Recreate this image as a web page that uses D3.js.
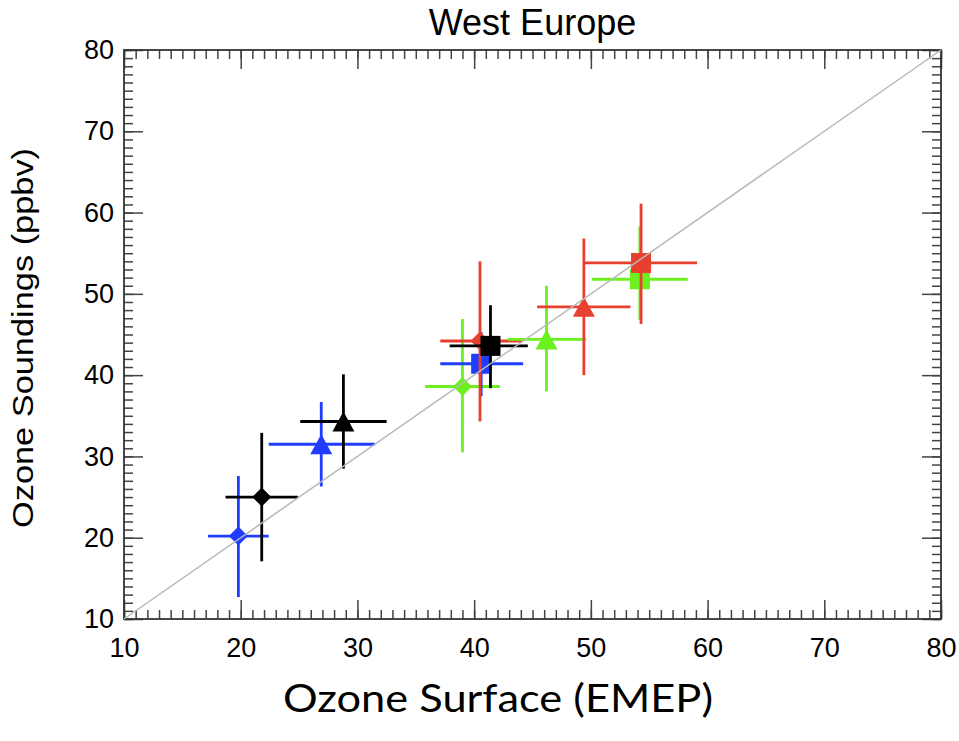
<!DOCTYPE html>
<html>
<head>
<meta charset="utf-8">
<script src="https://cdn.jsdelivr.net/npm/d3@7"></script>
<style>
  html, body { margin: 0; padding: 0; background: #fff; }
  svg { display: block; }
  text { font-family: "Liberation Sans", Arial, Helvetica, sans-serif; fill: #000; }
</style>
</head>
<body>
<svg id="chart" width="959" height="741"></svg>
<script>
// Mean ozone (ppbv): surface EMEP stations vs. ozonesondes, West Europe
const pointGroup = ["blue", "black", "blue", "black", "green", "blue", "red", "black", "green", "red", "green", "red"];
const pointShape = ["diamond", "diamond", "triangle", "triangle", "diamond", "square", "diamond", "square", "triangle", "triangle", "square", "square"];
const surfaceMean = [19.8, 21.8, 26.9, 28.8, 39.0, 40.6, 40.5, 41.4, 46.2, 49.4, 54.2, 54.3];
const surfaceLow  = [17.2, 18.7, 22.4, 25.1, 35.8, 37.1, 37.1, 37.9, 42.9, 45.4, 50.1, 49.4];
const surfaceHigh = [22.4, 24.9, 31.5, 32.5, 42.2, 44.2, 44.1, 44.6, 49.6, 53.4, 58.3, 59.1];
const soundingMean = [20.2, 25.0, 31.5, 34.3, 38.6, 41.4, 44.2, 43.6, 44.4, 48.4, 51.8, 53.8];
const soundingLow  = [12.7, 17.1, 26.3, 28.5, 30.5, 37.4, 34.3, 38.4, 38.0, 40.0, 46.8, 46.3];
const soundingHigh = [27.6, 32.9, 36.7, 40.1, 46.9, 45.3, 54.0, 48.6, 51.0, 56.8, 58.3, 61.1];
const axisTicks = [10, 20, 30, 40, 50, 60, 70, 80];
const minorTicks = d3.range(10, 81, 1);

const groupColor = d3.scaleOrdinal()
  .domain(["blue", "black", "green", "red"])
  .range(["#1f3cff", "#000000", "#6cf01e", "#e8402e"]);

const margin = { left: 124, right: 18, top: 50, bottom: 122 };
const W = 959, H = 741;
const svg = d3.select("#chart");

const x = d3.scaleLinear().domain([10, 80]).range([margin.left, W - margin.right]);
const y = d3.scaleLinear().domain([10, 80]).range([H - margin.bottom, margin.top]);

// Title
svg.append("text")
  .attr("x", (x.range()[0] + x.range()[1]) / 2)
  .attr("y", 35)
  .attr("text-anchor", "middle")
  .style("font-size", "36px")
  .text("West Europe");

// Axes: IDL-style inward ticks on all four sides
const tickColor = "#444";
function styleAxis(g) {
  g.select(".domain").remove();
  g.selectAll(".tick line").attr("stroke", tickColor).attr("stroke-width", 1.5);
  g.selectAll(".tick text").style("font-size", "27px").attr("fill", "#000");
}
const plotB = y(10), plotT = y(80), plotL = x(10), plotR = x(80);

// minor ticks
svg.append("g").attr("transform", `translate(0,${plotB})`)
  .call(d3.axisBottom(x).tickValues(minorTicks).tickSize(-9).tickFormat(""))
  .call(styleAxis);
svg.append("g").attr("transform", `translate(0,${plotT})`)
  .call(d3.axisTop(x).tickValues(minorTicks).tickSize(-9).tickFormat(""))
  .call(styleAxis);
svg.append("g").attr("transform", `translate(${plotL},0)`)
  .call(d3.axisLeft(y).tickValues(minorTicks).tickSize(-9).tickFormat(""))
  .call(styleAxis);
svg.append("g").attr("transform", `translate(${plotR},0)`)
  .call(d3.axisRight(y).tickValues(minorTicks).tickSize(-9).tickFormat(""))
  .call(styleAxis);

// major ticks and labels
svg.append("g").attr("transform", `translate(0,${plotB})`)
  .call(d3.axisBottom(x).tickValues(axisTicks).tickSize(-19).tickPadding(19).tickFormat(d3.format("d")))
  .call(styleAxis);
svg.append("g").attr("transform", `translate(0,${plotT})`)
  .call(d3.axisTop(x).tickValues(axisTicks).tickSize(-19).tickFormat(""))
  .call(styleAxis);
svg.append("g").attr("transform", `translate(${plotL},0)`)
  .call(d3.axisLeft(y).tickValues(axisTicks).tickSize(-19).tickPadding(10).tickFormat(d3.format("d")))
  .call(styleAxis);
svg.append("g").attr("transform", `translate(${plotR},0)`)
  .call(d3.axisRight(y).tickValues(axisTicks).tickSize(-19).tickFormat(""))
  .call(styleAxis);

// frame
svg.append("rect")
  .attr("x", plotL).attr("y", plotT)
  .attr("width", plotR - plotL).attr("height", plotB - plotT)
  .attr("fill", "none").attr("stroke", "#333").attr("stroke-width", 1.8);

// Axis titles
svg.append("text")
  .attr("transform", `translate(33,${(148 + 528) / 2}) rotate(-90)`)
  .attr("text-anchor", "middle")
  .attr("textLength", 380)
  .attr("lengthAdjust", "spacingAndGlyphs")
  .style("font-size", "30px")
  .text("Ozone Soundings (ppbv)");

svg.append("text")
  .attr("x", 498)
  .attr("y", 712)
  .attr("text-anchor", "middle")
  .attr("textLength", 430)
  .attr("lengthAdjust", "spacingAndGlyphs")
  .style("font-family", "Lato, 'Open Sans', sans-serif")
  .style("font-size", "39px")
  .text("Ozone Surface (EMEP)");

// Marker shapes
function markerPath(shape) {
  if (shape === "diamond") {
    const r = 9.5;
    return `M0,${-r}L${r},0L0,${r}L${-r},0Z`;
  }
  if (shape === "triangle") {
    return "M0,-10L11,10L-11,10Z";
  }
  const s = 10;
  return `M${-s},${-s}H${s}V${s}H${-s}Z`;
}

const points = surfaceMean.map((v, i) => ({
  group: pointGroup[i], shape: pointShape[i],
  x: v, xlo: surfaceLow[i], xhi: surfaceHigh[i],
  y: soundingMean[i], ylo: soundingLow[i], yhi: soundingHigh[i]
}));

const pts = svg.append("g").selectAll("g.pt").data(points).join("g").attr("class", "pt");
pts.append("line")
  .attr("x1", d => x(d.xlo)).attr("x2", d => x(d.xhi))
  .attr("y1", d => y(d.y)).attr("y2", d => y(d.y))
  .attr("stroke", d => groupColor(d.group)).attr("stroke-width", 2.8);
pts.append("line")
  .attr("x1", d => x(d.x)).attr("x2", d => x(d.x))
  .attr("y1", d => y(d.ylo)).attr("y2", d => y(d.yhi))
  .attr("stroke", d => groupColor(d.group)).attr("stroke-width", 2.8);
pts.append("path")
  .attr("transform", d => `translate(${x(d.x)},${y(d.y)})`)
  .attr("d", d => markerPath(d.shape))
  .attr("fill", d => groupColor(d.group));

// 1:1 line
svg.append("line")
  .attr("x1", x(10)).attr("y1", y(10))
  .attr("x2", x(80)).attr("y2", y(80))
  .attr("stroke", "#b8b8b8").attr("stroke-width", 1.5);
</script>
</body>
</html>
